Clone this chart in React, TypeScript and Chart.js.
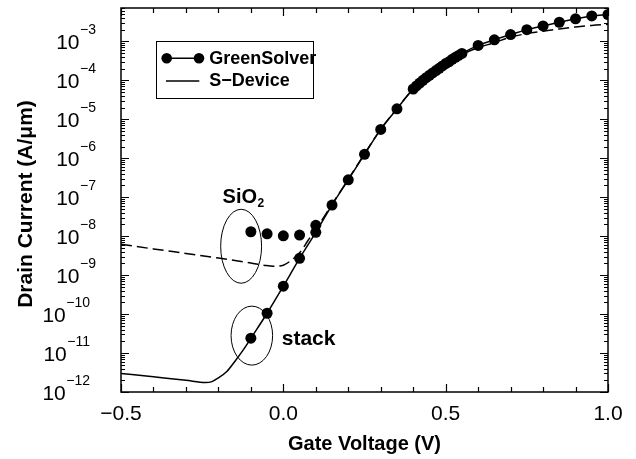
import React, { useEffect, useRef } from "react";
import { Chart, registerables } from "chart.js";

Chart.register(...registerables);

// ---- Data ----
// GreenSolver, gate stack
const stackPtsV = [-0.1, -0.05, 0.0, 0.05, 0.1, 0.15, 0.2, 0.25, 0.3, 0.35, 0.4, 0.41, 0.42, 0.43, 0.44, 0.45, 0.46, 0.47, 0.48, 0.49, 0.5, 0.51, 0.52, 0.53, 0.54, 0.55, 0.6, 0.65, 0.7, 0.75, 0.8, 0.85, 0.9, 0.95, 1.0];
const stackPtsI = [2.4e-11, 1.05e-10, 5.2e-10, 2.7e-9, 1.26e-8, 6.3e-8, 2.8e-7, 1.26e-6, 5.5e-6, 1.86e-5, 6.0e-5, 7.2e-5, 8.5e-5, 1.0e-4, 1.17e-4, 1.35e-4, 1.55e-4, 1.78e-4, 2.04e-4, 2.34e-4, 2.7e-4, 3.0e-4, 3.47e-4, 3.9e-4, 4.37e-4, 4.9e-4, 7.9e-4, 1.1e-3, 1.5e-3, 2.0e-3, 2.5e-3, 3.1e-3, 3.8e-3, 4.5e-3, 4.9e-3];

// GreenSolver, SiO2 (leakage region)
const sioPtsV = [-0.1, -0.05, 0.0, 0.05, 0.1];
const sioPtsI = [1.3e-8, 1.15e-8, 1.02e-8, 1.07e-8, 1.9e-8];

// S-Device, gate stack (solid)
const stackLineV = [-0.5, -0.4, -0.3, -0.24, -0.22, -0.2, -0.175, -0.15, -0.125, -0.1, -0.05, 0.0, 0.05, 0.1, 0.15, 0.2, 0.25, 0.3, 0.35, 0.4, 0.45, 0.5, 0.55, 0.6, 0.65, 0.7, 0.75, 0.8, 0.85, 0.9, 0.95, 1.0];
const stackLineI = [3.0e-12, 2.45e-12, 2.0e-12, 1.75e-12, 1.85e-12, 2.3e-12, 3.3e-12, 6.0e-12, 1.15e-11, 2.4e-11, 1.05e-10, 5.2e-10, 2.7e-9, 1.26e-8, 6.3e-8, 2.8e-7, 1.26e-6, 5.5e-6, 1.86e-5, 6.0e-5, 1.35e-4, 2.7e-4, 4.9e-4, 7.9e-4, 1.1e-3, 1.5e-3, 2.0e-3, 2.5e-3, 3.1e-3, 3.8e-3, 4.5e-3, 4.9e-3];

// S-Device, SiO2 (dashed)
const sioLineV = [-0.5, -0.4, -0.3, -0.2, -0.1, -0.06, -0.03, 0.0, 0.02, 0.04, 0.055, 0.075, 0.1, 0.15, 0.2, 0.25, 0.3, 0.35, 0.4, 0.45, 0.5, 0.55, 0.6, 0.65, 0.7, 0.75, 0.8, 0.85, 0.9, 0.95, 1.0];
const sioLineI = [6.2e-9, 4.7e-9, 3.6e-9, 2.75e-9, 2.05e-9, 1.8e-9, 1.68e-9, 1.8e-9, 2.25e-9, 3.1e-9, 4.2e-9, 7.5e-9, 1.5e-8, 6.6e-8, 2.9e-7, 1.3e-6, 5.6e-6, 1.9e-5, 6.0e-5, 1.35e-4, 2.65e-4, 4.6e-4, 6.9e-4, 9.3e-4, 1.29e-3, 1.58e-3, 1.82e-3, 2.09e-3, 2.34e-3, 2.57e-3, 2.75e-3];

// Axis ticks
const xTickLabels = [-0.5, 0.0, 0.5, 1.0];
const yDecades = [-12, -11, -10, -9, -8, -7, -6, -5, -4, -3];

const toXY = (xs: number[], ys: number[]) => xs.map((x, i) => ({ x, y: ys[i] }));

const FONT = "'Liberation Sans', Arial, Helvetica, sans-serif";

const fmt = (v: number) => (v < 0 ? "\u2212" : "") + Math.abs(v).toFixed(1);

const decorPlugin = {
  id: "decor",
  afterDatasetsDraw(chart: any) {
    const ctx = chart.ctx as CanvasRenderingContext2D;
    const xs = chart.scales.x;
    const ys = chart.scales.y;
    ctx.save();
    // ellipses (data-space boxes)
    const ell = (x0: number, x1: number, y0: number, y1: number) => {
      const px0 = xs.getPixelForValue(x0), px1 = xs.getPixelForValue(x1);
      const py0 = ys.getPixelForValue(y0), py1 = ys.getPixelForValue(y1);
      ctx.beginPath();
      ctx.ellipse((px0 + px1) / 2, (py0 + py1) / 2, Math.abs(px1 - px0) / 2, Math.abs(py1 - py0) / 2, 0, 0, Math.PI * 2);
      ctx.lineWidth = 1;
      ctx.strokeStyle = "#000";
      ctx.stroke();
    };
    ell(-0.193, -0.067, 4.9e-8, 6.2e-10);
    ell(-0.161, -0.033, 1.6e-10, 4.9e-12);

    ctx.fillStyle = "#000";
    ctx.textAlign = "left";
    ctx.textBaseline = "alphabetic";
    // SiO2 label
    const sx = xs.getPixelForValue(-0.187);
    const sy = ys.getPixelForValue(6.9e-8);
    ctx.font = `bold 20px ${FONT}`;
    ctx.fillText("SiO", sx, sy);
    const w = ctx.measureText("SiO").width;
    ctx.font = `bold 12px ${FONT}`;
    ctx.fillText("2", sx + w + 0.5, sy + 4);
    // stack label
    ctx.font = `bold 21px ${FONT}`;
    ctx.fillText("stack", xs.getPixelForValue(-0.005), ys.getPixelForValue(1.6e-11));
    ctx.restore();
  },
  afterDraw(chart: any) {
    const ctx = chart.ctx as CanvasRenderingContext2D;
    const xs = chart.scales.x;
    const ys = chart.scales.y;
    const { left, right, top, bottom } = chart.chartArea;
    ctx.save();
    ctx.strokeStyle = "#000";
    ctx.fillStyle = "#000";
    // frame
    ctx.lineWidth = 1.5;
    ctx.strokeRect(left, top, right - left, bottom - top);
    // x ticks
    ctx.lineWidth = 1.2;
    ctx.beginPath();
    for (let i = 0; i <= 15; i++) {
      const v = -0.5 + i * 0.1;
      const px = Math.round(xs.getPixelForValue(v)) + 0.5;
      const len = i % 5 === 0 ? 8 : 5;
      ctx.moveTo(px, bottom);
      ctx.lineTo(px, bottom - len);
      ctx.moveTo(px, top);
      ctx.lineTo(px, top + len);
    }
    ctx.stroke();
    // y ticks
    ctx.beginPath();
    for (let d = -12; d <= -3; d++) {
      for (let k = 1; k <= 9; k++) {
        const val = k * Math.pow(10, d);
        if (val > ys.max) continue;
        const py = Math.round(ys.getPixelForValue(val)) + 0.5;
        const len = k === 1 ? 8 : 4;
        ctx.moveTo(left, py);
        ctx.lineTo(left + len, py);
        ctx.moveTo(right, py);
        ctx.lineTo(right - len, py);
      }
    }
    ctx.stroke();
    // x tick labels
    ctx.font = `21px ${FONT}`;
    ctx.textAlign = "center";
    ctx.textBaseline = "alphabetic";
    xTickLabels.forEach((v) => {
      ctx.fillText(fmt(v), xs.getPixelForValue(v), bottom + 27.5);
    });
    // y tick labels 10^n
    yDecades.forEach((d) => {
      const py = ys.getPixelForValue(Math.pow(10, d));
      const exp = "\u2212" + String(Math.abs(d));
      const R = exp.length > 2 ? 90 : 96;
      ctx.textAlign = "right";
      ctx.font = `14px ${FONT}`;
      const ew = ctx.measureText(exp).width;
      ctx.fillText(exp, R, py - 7.5);
      ctx.font = `21px ${FONT}`;
      ctx.fillText("10", R - ew - 0.5, py + 7.5);
    });
    // axis titles
    ctx.font = `bold 20px ${FONT}`;
    ctx.textAlign = "center";
    ctx.fillText("Gate Voltage (V)", (left + right) / 2, 449.5);
    ctx.save();
    ctx.translate(32, 204);
    ctx.rotate(-Math.PI / 2);
    ctx.font = `bold 21px ${FONT}`;
    ctx.fillText("Drain Current (A/\u03bcm)", 0, 0);
    ctx.restore();
    // legend
    ctx.lineWidth = 1;
    ctx.strokeRect(156.5, 41.5, 157, 57);
    ctx.lineWidth = 1.5;
    ctx.beginPath();
    ctx.moveTo(166.7, 58.3);
    ctx.lineTo(199, 58.3);
    ctx.moveTo(166, 81);
    ctx.lineTo(199.3, 81);
    ctx.stroke();
    [166.7, 199].forEach((cx) => {
      ctx.beginPath();
      ctx.arc(cx, 58.3, 5.3, 0, Math.PI * 2);
      ctx.fill();
    });
    ctx.font = `bold 18px ${FONT}`;
    ctx.textAlign = "left";
    ctx.textBaseline = "middle";
    ctx.fillText("GreenSolver", 209.3, 59);
    ctx.fillText("S\u2212Device", 209.3, 81.5);
    ctx.restore();
  },
};

export default function App() {
  const ref = useRef<HTMLCanvasElement | null>(null);
  useEffect(() => {
    if (!ref.current) return;
    const chart = new Chart(ref.current, {
      type: "scatter",
      data: {
        datasets: [
          {
            label: "GreenSolver (stack)",
            data: toXY(stackPtsV, stackPtsI),
            showLine: false,
            pointRadius: 5.5,
            pointBackgroundColor: "#000",
            pointBorderWidth: 0,
            pointBorderColor: "#000",
          },
          {
            label: "GreenSolver (SiO2)",
            data: toXY(sioPtsV, sioPtsI),
            showLine: false,
            pointRadius: 5.5,
            pointBackgroundColor: "#000",
            pointBorderWidth: 0,
            pointBorderColor: "#000",
          },
          {
            label: "S-Device (stack)",
            data: toXY(stackLineV, stackLineI),
            showLine: true,
            pointRadius: 0,
            borderColor: "#000",
            borderWidth: 1.5,
            cubicInterpolationMode: "monotone",
          },
          {
            label: "S-Device (SiO2)",
            data: toXY(sioLineV, sioLineI),
            showLine: true,
            pointRadius: 0,
            borderColor: "#000",
            borderWidth: 1.5,
            borderDash: [11, 5],
            cubicInterpolationMode: "monotone",
          },
        ],
      },
      options: {
        animation: false,
        responsive: false,
        devicePixelRatio: 1,
        layout: { padding: { left: 121, top: 8, right: 28, bottom: 67 } },
        plugins: { legend: { display: false }, tooltip: { enabled: false } },
        scales: {
          x: { type: "linear", min: -0.5, max: 1.0, display: false },
          y: { type: "logarithmic", min: 1e-12, max: 7.2e-3, display: false },
        },
      },
      plugins: [decorPlugin],
    } as any);
    return () => chart.destroy();
  }, []);
  return (
    <div style={{ position: "fixed", left: 0, top: 0, width: 636, height: 459, background: "#fff" }}>
      <canvas ref={ref} width={636} height={459} />
    </div>
  );
}
